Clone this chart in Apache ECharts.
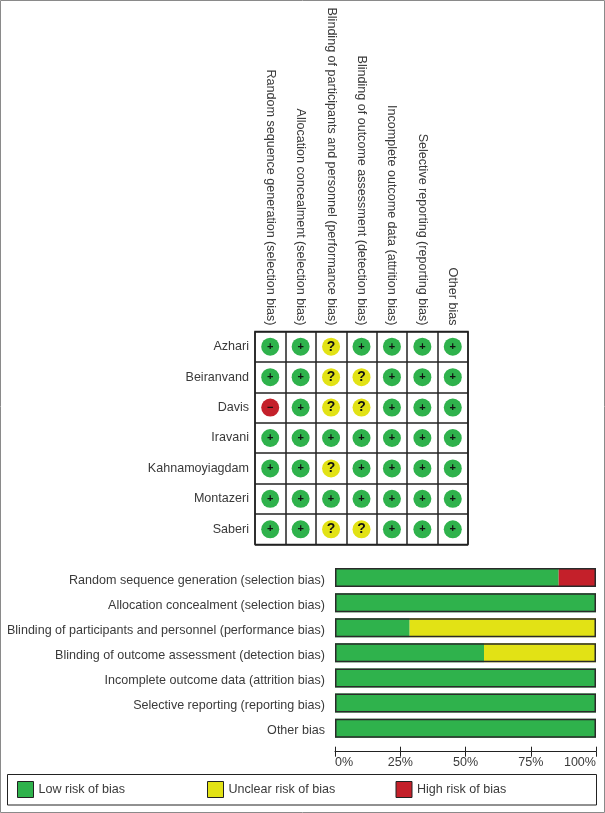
<!DOCTYPE html>
<html>
<head>
<meta charset="utf-8">
<style>html,body{margin:0;padding:0;background:#fff}#c{width:605px;height:813px}</style>
<script src="https://cdn.jsdelivr.net/npm/echarts@6/dist/echarts.min.js"></script>
</head>
<body>
<div id="c"></div>
<script>
const studies = ['Azhari','Beiranvand','Davis','Iravani','Kahnamoyiagdam','Montazeri','Saberi'];
const domains = [
  'Random sequence generation (selection bias)',
  'Allocation concealment (selection bias)',
  'Blinding of participants and personnel (performance bias)',
  'Blinding of outcome assessment (detection bias)',
  'Incomplete outcome data (attrition bias)',
  'Selective reporting (reporting bias)',
  'Other bias'
];
const ratings = [
  ['+','+','?','+','+','+','+'],
  ['+','+','?','?','+','+','+'],
  ['-','+','?','?','+','+','+'],
  ['+','+','+','+','+','+','+'],
  ['+','+','?','+','+','+','+'],
  ['+','+','+','+','+','+','+'],
  ['+','+','?','?','+','+','+']
];
const lowRisk     = [85.7,100,28.6,57.1,100,100,100];
const unclearRisk = [0,0,71.4,42.9,0,0,0];
const highRisk    = [14.3,0,0,0,0,0,0];
const percentTicks = [0,25,50,75,100];
const legendNames = ['Low risk of bias','Unclear risk of bias','High risk of bias'];

const GREEN='#2fb24c', YELLOW='#e2e215', RED='#c4202a', INK='#3a3a3a', LINE='#222222';
const FONT='"Liberation Sans", Arial, sans-serif';
const FS=12.55;
const colourOf = {'+':GREEN,'?':YELLOW,'-':RED};
const glyphOf = {'+':'+','?':'?','-':'\u2212'};
const glyphSize = {'+':11,'?':14,'-':11};

const matrixData=[];
ratings.forEach((row,r)=>row.forEach((v,c)=>matrixData.push({
  value:[c,r],
  itemStyle:{color:colourOf[v],opacity:1},
  label:{formatter:glyphOf[v],fontSize:glyphSize[v]}
})));

function barSeries(name,data,color){
  return {
    name,type:'bar',stack:'risk',xAxisIndex:1,yAxisIndex:1,data,barWidth:19,barGap:'-100%',
    itemStyle:{color,borderWidth:0},
    emphasis:{disabled:true}
  };
}
const legendLefts=[17,207,395.5];

const chart=echarts.init(document.getElementById('c'),null,{renderer:'canvas',width:605,height:813});
chart.setOption({
  animation:false,
  backgroundColor:'#fff',
  textStyle:{fontFamily:FONT},
  graphic:[
    {type:'rect',silent:true,z:-1,shape:{x:0.5,y:0.5,width:604,height:812},style:{fill:'none',stroke:'#8a8a8a',lineWidth:1}},
    {type:'rect',silent:true,z:-1,shape:{x:7.5,y:774.5,width:589,height:30.5},style:{fill:'#fff',stroke:LINE,lineWidth:1}}
  ],
  grid:[
    {left:255,top:331.5,width:213,height:213,show:true,borderColor:LINE,borderWidth:1.5,backgroundColor:'#fff'},
    {left:335,top:565,width:261,height:175.7}
  ],
  xAxis:[
    {gridIndex:0,type:'category',position:'top',data:domains,
      axisLine:{show:false},axisTick:{show:false},
      splitLine:{show:true,interval:0,lineStyle:{color:LINE,width:1.5}},
      axisLabel:{interval:0,rotate:90,margin:6,color:INK,fontSize:FS,fontFamily:FONT}},
    {gridIndex:1,type:'value',min:0,max:100,interval:25,position:'bottom',offset:11,
      splitLine:{show:false},
      axisLine:{show:true,lineStyle:{color:LINE,width:1}},
      axisTick:{show:true,length:5,customValues:percentTicks,lineStyle:{color:LINE}},
      axisLabel:{color:INK,fontSize:FS,fontFamily:FONT,margin:4,alignMinLabel:'left',alignMaxLabel:'right',
        customValues:percentTicks,formatter:v=>v+'%'}},
    {gridIndex:1,type:'value',min:0,max:100,interval:25,position:'bottom',offset:11,
      splitLine:{show:false},
      axisLine:{show:false},
      axisTick:{show:true,inside:true,length:5,lineStyle:{color:LINE}},
      axisLabel:{show:false}}
  ],
  yAxis:[
    {gridIndex:0,type:'category',inverse:true,data:studies,
      axisLine:{show:false},axisTick:{show:false},
      splitLine:{show:true,interval:0,lineStyle:{color:LINE,width:1.5}},
      axisLabel:{interval:0,margin:6,color:INK,fontSize:FS,fontFamily:FONT}},
    {gridIndex:1,type:'category',inverse:true,data:domains,
      axisLine:{show:false},axisTick:{show:false},splitLine:{show:false},
      axisLabel:{interval:0,margin:10,verticalAlign:'top',lineHeight:5,color:INK,fontSize:FS,fontFamily:FONT}}
  ],
  legend:legendNames.map((name,i)=>({
    left:legendLefts[i],top:781,padding:0,itemWidth:16,itemHeight:16,icon:'rect',
    selectedMode:false,data:[name],
    itemStyle:{borderColor:LINE,borderWidth:1},
    textStyle:{color:INK,fontSize:FS,fontFamily:FONT}
  })),
  series:[
    {type:'scatter',xAxisIndex:0,yAxisIndex:0,symbol:'circle',symbolSize:18,data:matrixData,
      label:{show:true,position:'inside',color:'#111',fontWeight:'bold',fontFamily:FONT},
      emphasis:{disabled:true}},
    barSeries(legendNames[0],lowRisk,GREEN),
    barSeries(legendNames[1],unclearRisk,YELLOW),
    barSeries(legendNames[2],highRisk,RED),
    {name:'frame',type:'bar',xAxisIndex:1,yAxisIndex:1,barWidth:19,barGap:'-100%',z:5,
      data:lowRisk.map((v,i)=>v+unclearRisk[i]+highRisk[i]),
      itemStyle:{color:'rgba(0,0,0,0)',borderColor:'#2a2a2a',borderWidth:1.5},
      emphasis:{disabled:true}}
  ]
});
</script>
</body>
</html>
